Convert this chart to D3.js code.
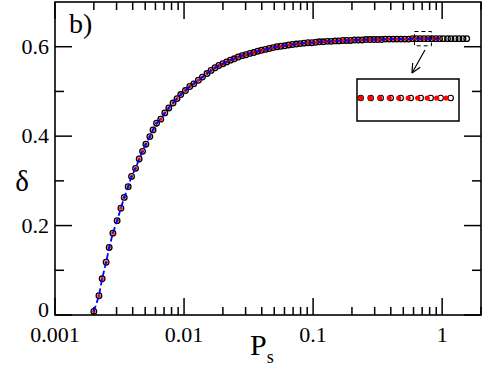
<!DOCTYPE html>
<html>
<head>
<meta charset="utf-8">
<script src="https://cdn.jsdelivr.net/npm/d3@7"></script>
<style>
  body { margin: 0; background: #fff; }
</style>
</head>
<body>
<script>
// data: P_s and delta
let ps = [0.00200, 0.00219, 0.00232, 0.00249, 0.00263, 0.00281, 0.00303, 0.00324, 0.00344, 0.00369,
          0.00392, 0.00421, 0.00449, 0.00477, 0.00506, 0.00543, 0.00575, 0.00612, 0.00660, 0.00709,
          0.00762, 0.00822, 0.00883, 0.00943, 0.01025, 0.01107, 0.01189, 0.01291, 0.01387, 0.01506,
          0.0162, 0.0174, 0.0186, 0.0200, 0.0214, 0.0229, 0.0245, 0.0263, 0.0282, 0.0302,
          0.0324, 0.0347, 0.0372, 0.0398, 0.0427, 0.0457, 0.0490, 0.0525, 0.0562, 0.0603,
          0.0646, 0.0692, 0.0741, 0.0794, 0.0851, 0.0912, 0.0977, 0.105, 0.112, 0.120,
          0.129, 0.138, 0.148, 0.158, 0.170, 0.182, 0.195, 0.209, 0.224, 0.240,
          0.257, 0.275, 0.295, 0.316, 0.339, 0.363, 0.389, 0.417, 0.447, 0.479,
          0.513, 0.550, 0.589, 0.631, 0.676, 0.724, 0.776, 0.832, 0.891, 0.955,
          1.02, 1.10, 1.17, 1.26, 1.35, 1.45, 1.55]
let delta = [0.008, 0.043, 0.081, 0.118, 0.151, 0.183, 0.211, 0.239, 0.263, 0.287,
             0.310, 0.328, 0.349, 0.366, 0.382, 0.399, 0.414, 0.429, 0.438, 0.452,
             0.463, 0.474, 0.484, 0.493, 0.502, 0.511, 0.517, 0.525, 0.532, 0.540,
             0.547, 0.553, 0.558, 0.562, 0.566, 0.570, 0.573, 0.577, 0.580, 0.582,
             0.585, 0.587, 0.590, 0.592, 0.594, 0.596, 0.598, 0.600, 0.601, 0.602,
             0.604, 0.605, 0.606, 0.607, 0.608, 0.609, 0.609, 0.610, 0.611, 0.611,
             0.612, 0.612, 0.613, 0.613, 0.614, 0.614, 0.614, 0.615, 0.615, 0.615,
             0.616, 0.616, 0.616, 0.616, 0.616, 0.617, 0.617, 0.617, 0.617, 0.617,
             0.617, 0.617, 0.618, 0.618, 0.618, 0.618, 0.618, 0.618, 0.618, 0.618,
             0.618, 0.618, 0.618, 0.618, 0.618, 0.618, 0.618]
// the red points and the blue dashed curve stop earlier than the open circles
let redLastP = 0.955

let xTicks = [0.001, 0.01, 0.1, 1]
let xTickLabels = ["0.001", "0.01", "0.1", "1"]
let yTicks = [0, 0.2, 0.4, 0.6]
let yTickLabels = ["0", "0.2", "0.4", "0.6"]

// inset: zoom of the dashed box, positions along the row
let insetOpen = [0, 1, 2, 3, 4, 5, 6, 7, 8, 9]
let insetRed = [0, 0.95, 1.9, 2.85, 3.8, 4.75, 5.7, 6.65, 7.6, 8.55]
let zoomBoxP = [0.61, 0.826]
let zoomBoxD = [0.602, 0.634]

let serif = "Liberation Serif, DejaVu Serif, Times New Roman, serif"
let W = 485, H = 368
let margin = {left: 55, right: 4, top: 2, bottom: 53}
let w = W - margin.left - margin.right
let h = H - margin.top - margin.bottom

let pts = ps.map((p, i) => ({p: p, d: delta[i]}))
let redPts = pts.filter(d => d.p <= redLastP)

let x = d3.scaleLog().domain([0.001, 2]).range([0, w])
let y = d3.scaleLinear().domain([0, 0.7]).range([h, 0])

let svg = d3.select("body").append("svg").attr("width", W).attr("height", H)
  .attr("font-family", serif)
let g = svg.append("g").attr("transform", "translate(" + margin.left + "," + margin.top + ")")

// minor and major ticks, drawn inward on all four sides
let minorX = []
;[0.001, 0.01, 0.1, 1].forEach(dec => {
  for (let k = 2; k <= 9; k++) if (dec * k <= 2) minorX.push(dec * k)
})
let minorY = [0.1, 0.3, 0.5]

let ticks = g.append("g").attr("stroke", "#000").attr("stroke-width", 1.5)
xTicks.forEach(t => {
  ticks.append("line").attr("x1", x(t)).attr("x2", x(t)).attr("y1", h).attr("y2", h - 17)
  ticks.append("line").attr("x1", x(t)).attr("x2", x(t)).attr("y1", 0).attr("y2", 17)
})
minorX.forEach(t => {
  ticks.append("line").attr("x1", x(t)).attr("x2", x(t)).attr("y1", h).attr("y2", h - 8)
  ticks.append("line").attr("x1", x(t)).attr("x2", x(t)).attr("y1", 0).attr("y2", 8)
})
yTicks.forEach(t => {
  ticks.append("line").attr("x1", 0).attr("x2", 17).attr("y1", y(t)).attr("y2", y(t))
  ticks.append("line").attr("x1", w).attr("x2", w - 17).attr("y1", y(t)).attr("y2", y(t))
})
minorY.forEach(t => {
  ticks.append("line").attr("x1", 0).attr("x2", 9).attr("y1", y(t)).attr("y2", y(t))
  ticks.append("line").attr("x1", w).attr("x2", w - 9).attr("y1", y(t)).attr("y2", y(t))
})

g.append("rect").attr("width", w).attr("height", h)
  .attr("fill", "none").attr("stroke", "#000").attr("stroke-width", 1.6)

// tick labels
g.selectAll("text.xl").data(xTicks).enter().append("text")
  .attr("class", "xl")
  .attr("x", d => x(d)).attr("y", h + 27)
  .attr("text-anchor", "middle").attr("font-size", 22)
  .text((d, i) => xTickLabels[i])
g.selectAll("text.yl").data(yTicks).enter().append("text")
  .attr("class", "yl")
  .attr("x", -6).attr("y", d => y(d) + (d === 0 ? 2 : 7))
  .attr("text-anchor", "end").attr("font-size", 22)
  .text((d, i) => yTickLabels[i])

// axis titles
svg.append("text").attr("x", 22).attr("y", 191).attr("text-anchor", "middle")
  .attr("font-size", 29).text("δ")
let xt = svg.append("text").attr("x", 250).attr("y", 355).attr("font-size", 30)
xt.append("tspan").text("P")
xt.append("tspan").attr("font-size", 18).attr("dy", 8).text("s")

svg.append("text").attr("x", 69).attr("y", 33).attr("font-size", 28).text("b)")

// data
g.append("g").selectAll("circle").data(pts).enter().append("circle")
  .attr("cx", d => x(d.p)).attr("cy", d => y(d.d)).attr("r", 2.8)
  .attr("fill", "none").attr("stroke", "#000").attr("stroke-width", 1.3)
g.append("g").selectAll("circle").data(redPts).enter().append("circle")
  .attr("cx", d => x(d.p)).attr("cy", d => y(d.d)).attr("r", 1.7)
  .attr("fill", "#ff0000")
let line = d3.line().x(d => x(d.p)).y(d => y(d.d))
g.append("path").datum(redPts).attr("d", line)
  .attr("fill", "none").attr("stroke", "#0000ff").attr("stroke-width", 1.8)
  .attr("stroke-dasharray", "6,3")

// dashed zoom box
g.append("rect")
  .attr("x", x(zoomBoxP[0])).attr("y", y(zoomBoxD[1]))
  .attr("width", x(zoomBoxP[1]) - x(zoomBoxP[0]))
  .attr("height", y(zoomBoxD[0]) - y(zoomBoxD[1]))
  .attr("fill", "none").attr("stroke", "#000").attr("stroke-width", 1)
  .attr("stroke-dasharray", "4,3")

// arrow
let ax1 = 425 - margin.left, ay1 = 50 - margin.top, ax2 = 412 - margin.left, ay2 = 73 - margin.top
g.append("line").attr("x1", ax1).attr("y1", ay1).attr("x2", ax2).attr("y2", ay2)
  .attr("stroke", "#000").attr("stroke-width", 1.2)
let ang = Math.atan2(ay2 - ay1, ax2 - ax1)
;[-0.45, 0.45].forEach(a => {
  g.append("line").attr("x1", ax2).attr("y1", ay2)
    .attr("x2", ax2 - 10 * Math.cos(ang + a)).attr("y2", ay2 - 10 * Math.sin(ang + a))
    .attr("stroke", "#000").attr("stroke-width", 1.2)
})

// inset
let inset = {x0: 357, y0: 79, x1: 459, y1: 121}
svg.append("rect").attr("x", inset.x0).attr("y", inset.y0)
  .attr("width", inset.x1 - inset.x0).attr("height", inset.y1 - inset.y0)
  .attr("fill", "#fff").attr("stroke", "#000").attr("stroke-width", 1.5)
let xi = d3.scaleLinear().domain([0, 9]).range([360.7, 450.7])
let yRow = (inset.y0 + inset.y1) / 2 - 2
svg.append("g").selectAll("circle").data(insetOpen).enter().append("circle")
  .attr("cx", d => xi(d)).attr("cy", yRow).attr("r", 2.7)
  .attr("fill", "none").attr("stroke", "#000").attr("stroke-width", 1.1)
svg.append("g").selectAll("circle").data(insetRed).enter().append("circle")
  .attr("cx", d => xi(d)).attr("cy", yRow).attr("r", 2.6)
  .attr("fill", "#ff0000")
</script>
</body>
</html>
